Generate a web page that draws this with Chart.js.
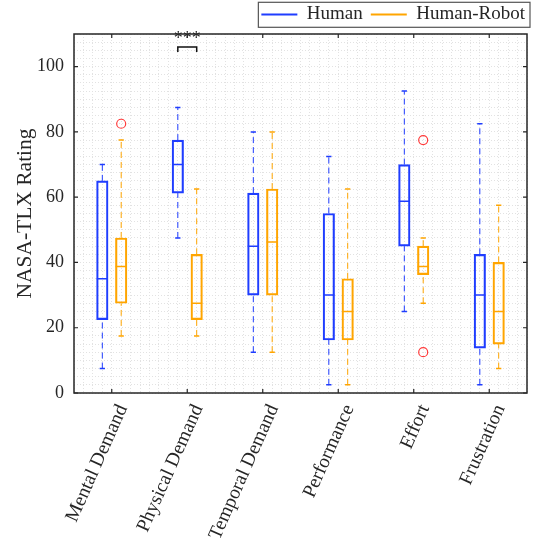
<!DOCTYPE html>
<html><head><meta charset="utf-8">
<script src="https://cdn.jsdelivr.net/npm/chart.js@4"></script>
<style>html,body{margin:0;padding:0;background:#fff}</style>
</head><body><canvas id="c" width="536" height="545"></canvas>
<script>
const categories = ['Mental Demand','Physical Demand','Temporal Demand','Performance','Effort','Frustration'];
const seriesNames = ['Human','Human-Robot'];
const humanMin    = [7.5, 47.5, 12.5, 2.5, 25, 2.5];
const humanQ1     = [22.5, 61.25, 30, 16.25, 45, 13.75];
const humanMedian = [35, 70, 45, 30, 58.75, 30];
const humanQ3     = [65, 77.5, 61.25, 55, 70, 42.5];
const humanMax    = [70, 87.5, 80, 72.5, 92.5, 82.5];
const humanOutliers = [[], [], [], [], [], []];
const robotMin    = [17.5, 17.5, 12.5, 2.5, 27.5, 7.5];
const robotQ1     = [27.5, 22.5, 30, 16.25, 36.25, 15];
const robotMedian = [38.75, 27.5, 46.25, 25, 38.75, 25];
const robotQ3     = [47.5, 42.5, 62.5, 35, 45, 40];
const robotMax    = [77.5, 62.5, 80, 62.5, 47.5, 57.5];
const robotOutliers = [[82.5], [], [], [], [77.5, 12.5], []];
const yTickLabels = [0, 20, 40, 60, 80, 100];
const sigCategory = 1;
const sigText = '***';
const sigLow = 104.5, sigHigh = 106;

const BLUE = '#1f3dff', ORANGE = '#ffa500', RED = '#ff3b3b', INK = '#262626';
const OFF = 0.125, CAP = 0.035, HALF = 0.074;

function boxes(off, q1, q3) { return categories.map((_, i) => ({x: i + off, y: [q1[i], q3[i]]})); }
function whiskers(off, mn, q1, q3, mx) {
  const p = [];
  categories.forEach((_, i) => { const x = i + off;
    p.push({x, y: q3[i]}, {x, y: mx[i]}, {x, y: null}, {x, y: mn[i]}, {x, y: q1[i]}, {x, y: null}); });
  return p;
}
function caps(off, mn, mx) {
  const p = [];
  categories.forEach((_, i) => { const x = i + off;
    p.push({x: x - CAP, y: mx[i]}, {x: x + CAP, y: mx[i]}, {x, y: null}, {x: x - CAP, y: mn[i]}, {x: x + CAP, y: mn[i]}, {x, y: null}); });
  return p;
}
function medians(off, md) {
  const p = [];
  categories.forEach((_, i) => { const x = i + off;
    p.push({x: x - HALF, y: md[i]}, {x: x + HALF, y: md[i]}, {x, y: null}); });
  return p;
}
function outliers(off, arr) {
  const p = [];
  arr.forEach((vals, i) => vals.forEach(v => p.push({x: i + off, y: v})));
  return p;
}
const lineBase = {type: 'line', pointRadius: 0, spanGaps: false, fill: false, tension: 0};
const barBase = {type: 'bar', grouped: false, barThickness: 11.5, backgroundColor: 'rgba(0,0,0,0)', borderWidth: 1.5, borderSkipped: false};

Chart.defaults.font.family = "'Liberation Serif', 'DejaVu Serif', serif";
Chart.defaults.font.size = 18;
Chart.defaults.color = INK;

const GRID = '#e2e2e2';

const framePlugin = {
  id: 'frame',
  afterDraw(chart) {
    const {ctx, chartArea: a, scales} = chart;
    ctx.save();
    ctx.strokeStyle = INK; ctx.lineWidth = 1.5;
    ctx.strokeRect(a.left, a.top, a.right - a.left, a.bottom - a.top);
    ctx.lineWidth = 1.2;
    ctx.beginPath();
    yTickLabels.forEach(v => { const py = scales.y.getPixelForValue(v);
      ctx.moveTo(a.left, py); ctx.lineTo(a.left + 4, py); ctx.moveTo(a.right - 4, py); ctx.lineTo(a.right, py); });
    categories.forEach((_, i) => { const px = scales.x.getPixelForValue(i);
      ctx.moveTo(px, a.top); ctx.lineTo(px, a.top + 4); ctx.moveTo(px, a.bottom - 4); ctx.lineTo(px, a.bottom); });
    ctx.stroke();
    ctx.fillStyle = INK; ctx.font = "18px 'Liberation Serif', serif";
    ctx.textAlign = 'center'; ctx.textBaseline = 'alphabetic';
    ctx.fillText(sigText, scales.x.getPixelForValue(sigCategory), scales.y.getPixelForValue(sigHigh) - 3);
    const lg = chart.legend;
    if (lg && lg.legendHitBoxes && lg.legendHitBoxes.length) {
      let l = Infinity, r = -Infinity, t = Infinity, b = -Infinity;
      lg.legendHitBoxes.forEach(h => { l = Math.min(l, h.left); r = Math.max(r, h.left + h.width); t = Math.min(t, h.top); b = Math.max(b, h.top + h.height); });
      ctx.strokeStyle = '#555'; ctx.lineWidth = 1.2;
      ctx.strokeRect(l - 3, t - 2.7, r - l + 8, b - t + 6);
    }
    ctx.restore();
  }
};

new Chart(document.getElementById('c'), {
  type: 'bar',
  data: {
    datasets: [
      {...barBase, label: seriesNames[0], data: boxes(-OFF, humanQ1, humanQ3), borderColor: BLUE},
      {...barBase, label: seriesNames[1], data: boxes(OFF, robotQ1, robotQ3), borderColor: ORANGE},
      {...lineBase, label: 'hw', data: whiskers(-OFF, humanMin, humanQ1, humanQ3, humanMax), borderColor: BLUE, borderWidth: 1, borderDash: [6, 4]},
      {...lineBase, label: 'rw', data: whiskers(OFF, robotMin, robotQ1, robotQ3, robotMax), borderColor: ORANGE, borderWidth: 1, borderDash: [6, 4]},
      {...lineBase, label: 'hc', data: caps(-OFF, humanMin, humanMax), borderColor: BLUE, borderWidth: 1.5},
      {...lineBase, label: 'rc', data: caps(OFF, robotMin, robotMax), borderColor: ORANGE, borderWidth: 1.5},
      {...lineBase, label: 'hm', data: medians(-OFF, humanMedian), borderColor: BLUE, borderWidth: 1.5},
      {...lineBase, label: 'rm', data: medians(OFF, robotMedian), borderColor: ORANGE, borderWidth: 1.5},
      {...lineBase, label: 'ho', data: outliers(-OFF, humanOutliers), showLine: false, pointRadius: 4.5, pointBorderWidth: 1.2, pointBorderColor: RED, pointBackgroundColor: 'rgba(0,0,0,0)'},
      {...lineBase, label: 'ro', data: outliers(OFF, robotOutliers), showLine: false, pointRadius: 4.5, pointBorderWidth: 1.2, pointBorderColor: RED, pointBackgroundColor: 'rgba(0,0,0,0)'},
      {...lineBase, label: 'sig', data: [{x: sigCategory - OFF, y: sigLow}, {x: sigCategory - OFF, y: sigHigh}, {x: sigCategory + OFF, y: sigHigh}, {x: sigCategory + OFF, y: sigLow}], borderColor: '#111', borderWidth: 1.5}
    ]
  },
  options: {
    responsive: false, animation: false, devicePixelRatio: 1, events: [],
    layout: {padding: {left: 0, right: 3, top: -3, bottom: 0}},
    plugins: {
      tooltip: {enabled: false},
      legend: {
        position: 'top', align: 'end',
        labels: {
          usePointStyle: true, pointStyleWidth: 36, padding: 8, color: INK, font: {size: 19},
          generateLabels: () => [
            {text: seriesNames[0], strokeStyle: BLUE, fillStyle: BLUE, lineWidth: 2, pointStyle: 'line', hidden: false, datasetIndex: 0, fontColor: INK},
            {text: seriesNames[1], strokeStyle: ORANGE, fillStyle: ORANGE, lineWidth: 2, pointStyle: 'line', hidden: false, datasetIndex: 1, fontColor: INK}
          ]
        }
      }
    },
    scales: {
      x: {
        type: 'linear', position: 'bottom', min: -0.5, max: 5.5, offset: false,
        grid: {color: GRID, drawTicks: false, offset: false}, border: {display: false, dash: [1, 2]},
        ticks: {stepSize: 0.125, maxTicksLimit: 100, autoSkip: false, minRotation: 66, maxRotation: 66,
                padding: 8, labelOffset: 11, font: {size: 19.5}, color: INK,
                callback: v => (Number.isInteger(v) && categories[v] !== undefined ? categories[v] : '')},
        afterFit: s => { s.height = 152; s.paddingLeft = 0; s.paddingRight = 0; }
      },
      y: {
        type: 'linear', position: 'left', min: 0, max: 110,
        ticks: {stepSize: 2.5, maxTicksLimit: 100, autoSkip: false, padding: 10, font: {size: 18}, color: INK,
                callback: v => (yTickLabels.includes(v) ? String(v) : '')},
        grid: {color: GRID, drawTicks: false}, border: {display: false, dash: [1, 2]},
        title: {display: true, text: 'NASA-TLX Rating', font: {size: 21.5}, color: INK, padding: {top: 12, bottom: 0}},
        afterFit: s => { s.width = 74; }
      },
      yR: {
        type: 'linear', position: 'right', min: 0, max: 110, display: true,
        ticks: {display: false}, grid: {display: false, drawTicks: false}, border: {display: false},
        afterFit: s => { s.width = 6; }
      }
    }
  },
  plugins: [framePlugin]
});
</script></body></html>
